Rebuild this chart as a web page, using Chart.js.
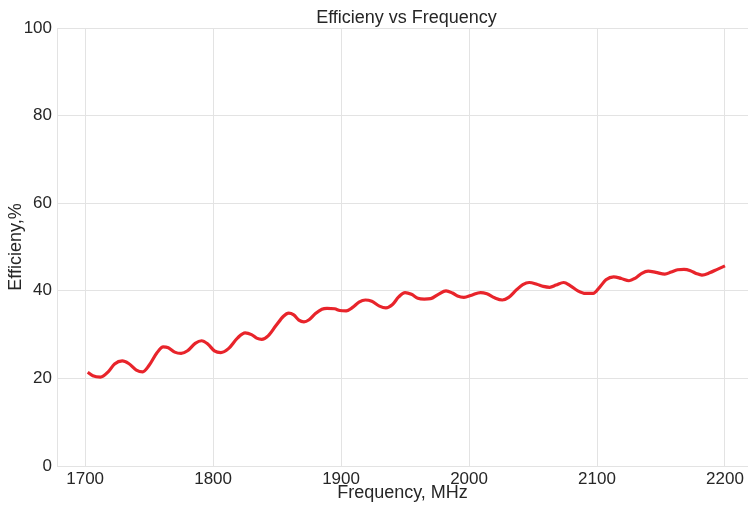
<!DOCTYPE html>
<html>
<head>
<meta charset="utf-8">
<script src="https://cdn.jsdelivr.net/npm/chart.js@4/dist/chart.umd.min.js"></script>
<style>
html,body{margin:0;padding:0;background:#fff;}
#wrap{width:748px;height:505px;}
</style>
</head>
<body>
<div id="wrap"><canvas id="c" width="748" height="505"></canvas></div>
<script>
const frequency = [1702,1706,1712,1718,1723,1729,1734,1740,1745,1750,1756,1761,1765,1770,1775,1780,1786,1791,1796,1801,1806,1812,1819,1825,1830,1834,1838,1843,1849,1855,1859,1863,1867,1871,1875,1880,1885,1889,1895,1899,1904,1909,1914,1919,1924,1930,1935,1940,1945,1950,1955,1960,1965,1970,1976,1982,1987,1991,1996,2002,2009,2014,2020,2026,2031,2037,2042,2047,2053,2058,2063,2068,2074,2079,2085,2091,2097,2102,2107,2113,2119,2125,2130,2135,2140,2146,2153,2158,2163,2168,2173,2178,2182,2188,2194,2200];
const efficiency = [21.4,20.6,20.3,21.5,23.3,24.0,23.4,21.9,21.5,23.0,25.8,27.2,27.0,26.0,25.7,26.3,28.0,28.6,27.8,26.3,25.9,26.8,29.2,30.4,30.0,29.2,28.9,29.7,32.0,34.2,34.9,34.5,33.3,32.9,33.4,34.8,35.8,36.0,35.9,35.5,35.4,36.2,37.4,37.9,37.6,36.5,36.1,36.8,38.6,39.6,39.2,38.3,38.1,38.2,39.2,40.0,39.5,38.8,38.5,39.0,39.6,39.3,38.4,37.9,38.5,40.2,41.4,41.9,41.5,41.0,40.8,41.3,41.9,41.2,40.0,39.4,39.4,40.8,42.5,43.2,42.8,42.3,42.9,44.0,44.5,44.2,43.8,44.3,44.8,44.9,44.6,43.9,43.6,44.1,44.9,45.7];
const xTickValues = [1700,1800,1900,2000,2100,2200];
const yTickValues = [0,20,40,60,80,100];
const chartTitle = "Efficieny vs Frequency";
const xTitle = "Frequency, MHz";
const yTitle = "Efficieny,%";

const FONT = "'Liberation Sans', Arial, sans-serif";
const TXT = '#262626';

const titlePlugin = {
  id: 'centerTitle',
  afterDraw(chart) {
    const ctx = chart.ctx, a = chart.chartArea;
    ctx.save();
    ctx.font = '18px ' + FONT;
    ctx.fillStyle = TXT;
    ctx.textAlign = 'center';
    ctx.textBaseline = 'middle';
    ctx.fillText(chartTitle, (a.left + a.right) / 2 + 4, 18);
    ctx.restore();
  }
};

new Chart(document.getElementById('c'), {
  type: 'line',
  data: {
    datasets: [{
      data: frequency.map((f, i) => ({x: f, y: efficiency[i]})),
      borderColor: '#e8242b',
      borderWidth: 3.2,
      pointRadius: 0,
      tension: 0.4,
      cubicInterpolationMode: 'monotone',
      fill: false
    }]
  },
  options: {
    responsive: false,
    animation: false,
    devicePixelRatio: 1,
    layout: {padding: {top: 28, right: 0, left: 0, bottom: 0}},
    plugins: {legend: {display: false}, tooltip: {enabled: false}, title: {display: false}},
    scales: {
      x: {
        type: 'linear',
        min: 1678,
        max: 2218,
        afterBuildTicks(s) { s.ticks = xTickValues.map(v => ({value: v})); },
        afterFit(s) { s.height = 39; },
        grid: {color: '#e3e3e3', drawTicks: false, lineWidth: 1},
        border: {color: '#e3e3e3'},
        ticks: {font: {size: 17, family: FONT}, color: TXT, padding: 3, maxRotation: 0, callback: v => String(v)},
        title: {display: true, text: xTitle, font: {size: 18, family: FONT}, color: TXT, padding: {top: 0, bottom: 1}}
      },
      y: {
        min: 0,
        max: 100,
        afterBuildTicks(s) { s.ticks = yTickValues.map(v => ({value: v})); },
        afterFit(s) { s.width = 57; },
        grid: {color: '#e3e3e3', drawTicks: false, lineWidth: 1},
        border: {color: '#e3e3e3'},
        ticks: {font: {size: 17, family: FONT}, color: TXT, padding: 5, callback: v => String(v)},
        title: {display: true, text: yTitle, font: {size: 18, family: FONT}, color: TXT, padding: {top: 5, bottom: 0}}
      }
    }
  },
  plugins: [titlePlugin]
});
</script>
</body>
</html>
